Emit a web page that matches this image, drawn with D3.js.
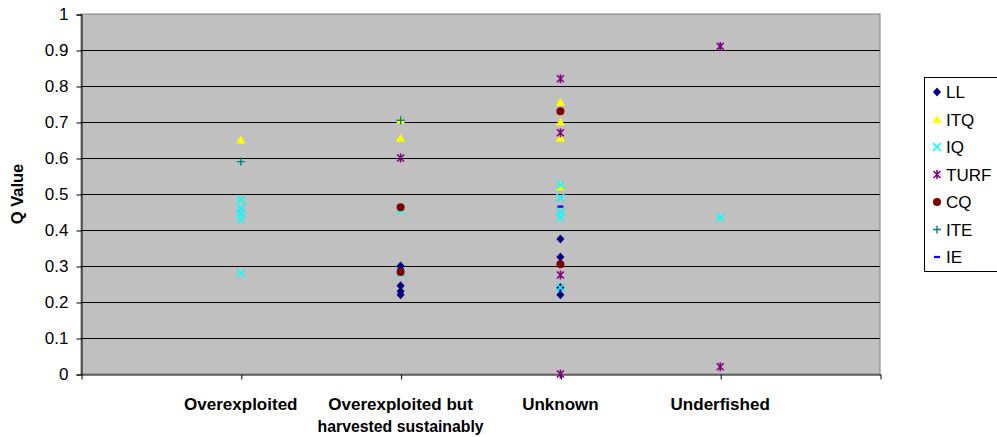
<!DOCTYPE html>
<html><head><meta charset="utf-8">
<script src="https://cdn.jsdelivr.net/npm/d3@7"></script>
<style>body{margin:0;background:#fff}svg{display:block}text{font-family:"Liberation Sans",Arial,sans-serif}</style>
</head><body>
<svg id="c" width="997" height="437"></svg>
<script>
const categories = ["Overexploited", "Overexploited but\nharvested sustainably", "Unknown", "Underfished"];
const yTicks = [0,0.1,0.2,0.3,0.4,0.5,0.6,0.7,0.8,0.9,1];
const yTickLabels = ["0","0.1","0.2","0.3","0.4","0.5","0.6","0.7","0.8","0.9","1"];
// [category index (1-based), Q value]
const LL   = [[2,0.30],[2,0.29],[2,0.245],[2,0.23],[2,0.22],[3,0.375],[3,0.325],[3,0.24],[3,0.22]];
const ITQ  = [[1,0.65],[2,0.705],[2,0.655],[3,0.755],[3,0.70],[3,0.655],[3,0.52]];
const IQ   = [[1,0.485],[1,0.46],[1,0.445],[1,0.43],[1,0.28],[2,0.455],[2,0.28],[3,0.525],[3,0.49],[3,0.45],[3,0.435],[3,0.24],[4,0.435]];
const TURF = [[2,0.60],[3,0.82],[3,0.67],[3,0.275],[3,0.0],[4,0.91],[4,0.02]];
const CQ   = [[2,0.463],[2,0.283],[3,0.73],[3,0.305]];
const ITE  = [[1,0.59],[2,0.705]];
const IE   = [[3,0.465]];
const seriesNames = ["LL","ITQ","IQ","TURF","CQ","ITE","IE"];
const seriesData = [LL, ITQ, IQ, TURF, CQ, ITE, IE];

const svg = d3.select("#c");
const L = 81, R = 880, T = 14, B = 374;
const x = d3.scaleLinear().domain([0,5]).range([L,R]);
const y = d3.scaleLinear().domain([0,1]).range([B,T]);

svg.append("rect").attr("x",L).attr("y",T).attr("width",R-L).attr("height",B-T)
  .attr("fill","#C0C0C0").attr("stroke","#808080").attr("stroke-width",1);

// gridlines
svg.append("g").selectAll("line").data(yTicks.slice(1,-1)).join("line")
  .attr("x1",L).attr("x2",R).attr("y1",d=>Math.round(y(d))+0.5).attr("y2",d=>Math.round(y(d))+0.5)
  .attr("stroke","#000").attr("stroke-width",1);

// y axis
const ya = d3.axisLeft(y).tickValues(yTicks).tickFormat((d,i)=>yTickLabels[i]).tickSize(5).tickPadding(8);
const gy = svg.append("g").attr("transform",`translate(${L+0.5},0.5)`).call(ya);
gy.select(".domain").attr("stroke","#000");
gy.selectAll(".tick line").attr("stroke","#000");
gy.selectAll("text").attr("font-size",17).attr("fill","#000").attr("font-family","Liberation Sans, Arial, sans-serif");

// x axis
const xa = d3.axisBottom(x).tickValues([0,1,2,3,4,5]).tickFormat("").tickSize(5).tickSizeOuter(0);
const gx = svg.append("g").attr("transform",`translate(0.5,${B+0.5})`).call(xa);
gx.select(".domain").attr("stroke","#000");
gx.selectAll(".tick line").attr("stroke","#000");

// category labels
categories.forEach((c,i)=>{
  const lines = c.split("\n");
  const t = svg.append("text").attr("x",x(i+1)).attr("y",410).attr("text-anchor","middle")
    .attr("font-size",17).attr("font-weight","bold").attr("fill","#000");
  lines.forEach((ln,j)=>{
    const ts = t.append("tspan").attr("x",x(i+1)).attr("dy",j===0?0:22).text(ln);
    if (j===1) ts.attr("textLength",166).attr("lengthAdjust","spacingAndGlyphs");
  });
});

// y title
svg.append("text").attr("transform",`translate(23,${(T+B)/2}) rotate(-90)`).attr("text-anchor","middle")
  .attr("font-size",16.5).attr("font-weight","bold").attr("fill","#000").text("Q Value");

// markers
function drawMarker(g, k){
  switch(k){
    case 0: g.append("path").attr("d","M0,-4.5L4,0L0,4.5L-4,0Z").attr("fill","#000080"); break;
    case 1: g.append("path").attr("d","M0,-4.5L4.5,3.5L-4.5,3.5Z").attr("fill","#FFFF00"); break;
    case 2: g.append("path").attr("d","M-4,-4L4,4M-4,4L4,-4").attr("stroke","#00FFFF").attr("stroke-width",1.6); break;
    case 3: g.append("path").attr("d","M-3.5,-3.5L3.5,3.5M-3.5,3.5L3.5,-3.5M0,-4.5L0,4.5").attr("stroke","#800080").attr("stroke-width",1.6); break;
    case 4: g.append("circle").attr("r",4).attr("fill","#800000"); break;
    case 5: g.append("path").attr("d","M-4,0L4,0M0,-4L0,4").attr("stroke","#008080").attr("stroke-width",1.4); break;
    case 6: g.append("path").attr("d","M-3,0L3,0").attr("stroke","#0000FF").attr("stroke-width",2.2); break;
  }
}
seriesData.forEach((data,k)=>{
  const gs = svg.append("g");
  data.forEach(d=>{
    const g = gs.append("g").attr("transform",`translate(${x(d[0])},${y(d[1])})`);
    drawMarker(g,k);
  });
});

// legend
const lg = svg.append("g");
lg.append("rect").attr("x",924.5).attr("y",77.5).attr("width",80).attr("height",194)
  .attr("fill","#fff").attr("stroke","#000");
seriesNames.forEach((n,i)=>{
  const cy = 92 + i*27.5;
  const g = lg.append("g").attr("transform",`translate(937,${cy})`);
  drawMarker(g,i);
  lg.append("text").attr("x",946).attr("y",cy+6).attr("font-size",17).attr("fill","#000").text(n);
});
</script>
</body></html>
